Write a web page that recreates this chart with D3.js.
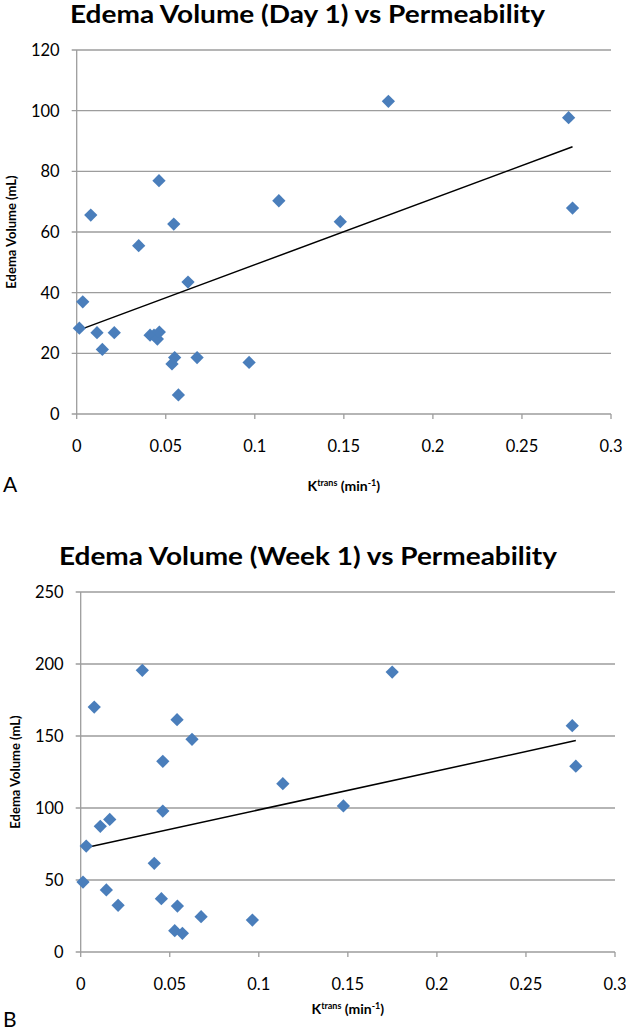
<!DOCTYPE html>
<html>
<head>
<meta charset="utf-8">
<script src="https://cdn.jsdelivr.net/npm/d3@7"></script>
<style>
  html, body { margin: 0; padding: 0; background: #fff; }
  svg { display: block; }
  text { font-family: Lato, "Open Sans", sans-serif; fill: #000; }
</style>
</head>
<body>
<svg id="chart" width="626" height="1034"></svg>
<script>
// ---------- DATA ----------
const titles = ["Edema Volume (Day 1) vs Permeability", "Edema Volume (Week 1) vs Permeability"];
const panelLetters = ["A", "B"];
const yAxisTitle = "Edema Volume (mL)";
const xTicks = [0, 0.05, 0.1, 0.15, 0.2, 0.25, 0.3];
const xTickLabels = ["0", "0.05", "0.1", "0.15", "0.2", "0.25", "0.3"];
const yTicksDay1 = [0, 20, 40, 60, 80, 100, 120];
const yTicksWeek1 = [0, 50, 100, 150, 200, 250];

const ktransDay1 = [0.0015, 0.0034, 0.0079, 0.0114, 0.0144, 0.0211, 0.0348, 0.0412, 0.0434, 0.0453, 0.0462, 0.0464,
                    0.0535, 0.0545, 0.0550, 0.0571, 0.0625, 0.0676, 0.0968, 0.1135, 0.1480, 0.1750, 0.2762, 0.2784];
const edemaDay1  = [28.3, 37.0, 65.6, 26.8, 21.3, 26.8, 55.5, 26.0, 26.0, 24.7, 76.9, 27.0,
                    16.5, 62.6, 18.6, 6.3, 43.5, 18.6, 17.0, 70.3, 63.4, 103.1, 97.7, 67.9];

const ktransWeek1 = [0.0013, 0.0031, 0.0076, 0.0110, 0.0144, 0.0163, 0.0210, 0.0346, 0.0413, 0.0453, 0.0461, 0.0461,
                     0.0528, 0.0541, 0.0543, 0.0571, 0.0625, 0.0676, 0.0964, 0.1135, 0.1475, 0.1749, 0.2760, 0.2780];
const edemaWeek1  = [48.6, 73.6, 170.1, 87.3, 43.1, 92.1, 32.4, 195.6, 61.6, 37.0, 132.4, 97.9,
                     14.8, 161.3, 31.9, 13.0, 147.7, 24.5, 22.2, 116.9, 101.4, 194.4, 157.2, 129.0];

// linear trendlines (intercept, slope)
const trendDay1 = [27.4, 218.1];
const trendWeek1 = [71.7, 270.2];

// ---------- LAYOUT ----------
const panels = [
  { title: titles[0], letter: panelLetters[0], xs: ktransDay1, ys: edemaDay1, yTicks: yTicksDay1, trend: trendDay1,
    left: 76.7, right: 611, top: 50, bottom: 414, titleY: 23, titleX0: 70, titleX1: 545,
    xLabY: 446, xTitleY: 486, letterY: 483, yTitleX: 11 },
  { title: titles[1], letter: panelLetters[1], xs: ktransWeek1, ys: edemaWeek1, yTicks: yTicksWeek1, trend: trendWeek1,
    left: 80.7, right: 615, top: 592, bottom: 952, titleY: 565, titleX0: 59, titleX1: 557,
    xLabY: 984, xTitleY: 1009, letterY: 1018, yTitleX: 15 }
];

const svg = d3.select("#chart");
const gridColor = "#9d9d9d";
const markerColor = "#4a7ebb";

panels.forEach(p => {
  const yMax = d3.max(p.yTicks);
  const x = d3.scaleLinear().domain([0, 0.3]).range([p.left, p.right]);
  const y = d3.scaleLinear().domain([0, yMax]).range([p.bottom, p.top]);
  const g = svg.append("g");

  // Title
  g.append("text")
    .attr("x", p.titleX0).attr("y", p.titleY)
    .attr("textLength", p.titleX1 - p.titleX0).attr("lengthAdjust", "spacingAndGlyphs")
    .style("font-size", "24px").style("font-weight", "bold")
    .text(p.title);

  // Horizontal gridlines (extend left as tick marks)
  g.append("g").selectAll("line").data(p.yTicks).join("line")
    .attr("x1", p.left - 5).attr("x2", p.right)
    .attr("y1", d => y(d)).attr("y2", d => y(d))
    .attr("stroke", gridColor).attr("stroke-width", 1.3);

  // Y axis line
  g.append("line").attr("x1", p.left).attr("x2", p.left).attr("y1", p.top).attr("y2", p.bottom)
    .attr("stroke", gridColor).attr("stroke-width", 1.3);

  // X ticks
  g.append("g").selectAll("line").data(xTicks).join("line")
    .attr("x1", d => x(d)).attr("x2", d => x(d))
    .attr("y1", p.bottom).attr("y2", p.bottom + 5)
    .attr("stroke", gridColor).attr("stroke-width", 1.3);

  // Y tick labels
  g.append("g").selectAll("text").data(p.yTicks).join("text")
    .attr("x", p.left - 17).attr("y", d => y(d))
    .attr("text-anchor", "end").attr("dominant-baseline", "central")
    .style("font-size", "16.5px")
    .text(d => d);

  // X tick labels
  g.append("g").selectAll("text").data(xTicks).join("text")
    .attr("x", d => x(d)).attr("y", p.xLabY)
    .attr("text-anchor", "middle").attr("dominant-baseline", "central")
    .style("font-size", "16.5px")
    .text((d, i) => xTickLabels[i]);

  // Y axis title
  g.append("text")
    .attr("transform", `translate(${p.yTitleX},${(p.top + p.bottom) / 2}) rotate(-90)`)
    .attr("text-anchor", "middle").attr("dominant-baseline", "central")
    .style("font-size", "13px").style("font-weight", "bold")
    .text(yAxisTitle);

  // X axis title with superscripts
  const xt = g.append("text")
    .attr("x", (p.left + p.right) / 2).attr("y", p.xTitleY + 5)
    .attr("text-anchor", "middle")
    .style("font-size", "14px").style("font-weight", "bold");
  xt.append("tspan").text("K");
  xt.append("tspan").attr("dy", -5).style("font-size", "9px").text("trans");
  xt.append("tspan").attr("dy", 5).text(" (min");
  xt.append("tspan").attr("dy", -5).style("font-size", "9px").text("-1");
  xt.append("tspan").attr("dy", 5).text(")");

  // Panel letter
  g.append("text").attr("x", 3).attr("y", p.letterY)
    .attr("dominant-baseline", "central")
    .style("font-size", "21px")
    .text(p.letter);

  // Trend line
  const [b0, b1] = p.trend;
  const xmin = d3.min(p.xs), xmax = d3.max(p.xs);
  g.append("line")
    .attr("x1", x(xmin)).attr("y1", y(b0 + b1 * xmin))
    .attr("x2", x(xmax)).attr("y2", y(b0 + b1 * xmax))
    .attr("stroke", "#000").attr("stroke-width", 1.5);

  // Markers (diamonds)
  const sym = d3.symbol().type(d3.symbolSquare).size(88);
  g.append("g").selectAll("path").data(p.xs.map((v, i) => [v, p.ys[i]])).join("path")
    .attr("d", sym)
    .attr("transform", d => `translate(${x(d[0])},${y(d[1])}) rotate(45)`)
    .attr("fill", markerColor);
});
</script>
</body>
</html>
